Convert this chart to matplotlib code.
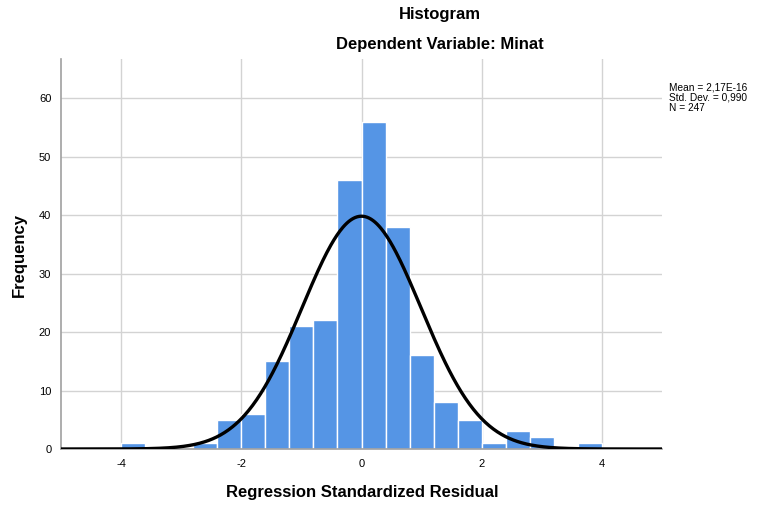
import numpy as np
import matplotlib
matplotlib.use("Agg")
import matplotlib.pyplot as plt

# Data
bin_edges_start = -4.0
bin_width = 0.4
counts = [1, 0, 0, 1, 5, 6, 15, 21, 22, 46, 56, 38, 16, 8, 5, 1, 3, 2, 0, 1]
mean = 2.17e-16
std = 0.990
n = 247
x_ticks = [-4, -2, 0, 2, 4]
y_ticks = [0, 10, 20, 30, 40, 50, 60]

plt.rcParams['font.family'] = ['Liberation Sans', 'DejaVu Sans']

W, H = 766, 509
fig = plt.figure(figsize=(W / 100, H / 100), dpi=100)
left, right, top, bottom = 61, 662, 59, 449
ax = fig.add_axes([left / W, 1 - bottom / H, (right - left) / W, (bottom - top) / H])

edges = bin_edges_start + bin_width * np.arange(len(counts) + 1)
ax.bar(edges[:-1], counts, width=bin_width, align='edge', color='#5595e5',
       edgecolor='white', linewidth=1.0, zorder=2)

xs = np.linspace(-5, 5, 600)
pdf = n * bin_width / (std * np.sqrt(2 * np.pi)) * np.exp(-0.5 * ((xs - mean) / std) ** 2)
ax.plot(xs, pdf, color='black', linewidth=2.4, zorder=3, solid_capstyle='butt')

ax.set_xlim(-5, 5)
ax.set_ylim(0, 66.7)
ax.set_xticks(x_ticks)
ax.set_yticks(y_ticks)
ax.set_xticklabels([str(t) for t in x_ticks])
ax.set_yticklabels([str(t) for t in y_ticks])
ax.grid(True, color='#d3d3d3', linewidth=1.0, zorder=0)
ax.set_axisbelow(True)
ax.tick_params(length=0, labelsize=8, pad=7)
for s in ['top', 'right']:
    ax.spines[s].set_visible(False)
ax.spines['left'].set_color('#a0a0a0')
ax.spines['left'].set_linewidth(1.2)
ax.spines['bottom'].set_color('#a0a0a0')
ax.spines['bottom'].set_linewidth(1.2)

fig.text(440 / W, 1 - 14 / H, 'Histogram', ha='center', va='center',
         fontsize=12, fontweight='bold')
fig.text(440 / W, 1 - 45 / H, 'Dependent Variable: Minat', ha='center', va='center',
         fontsize=12, fontweight='bold')
fig.text(362 / W, 1 - 492 / H, 'Regression Standardized Residual', ha='center',
         va='center', fontsize=12, fontweight='bold')
fig.text(19 / W, 1 - 255 / H, 'Frequency', ha='center', va='center',
         fontsize=12, fontweight='bold', rotation=90)
fig.text(669 / W, 1 - 82 / H,
         'Mean = 2,17E-16\nStd. Dev. = 0,990\nN = 247',
         ha='left', va='top', fontsize=7.3, linespacing=1.08)

fig.savefig('out.png', dpi=100)
